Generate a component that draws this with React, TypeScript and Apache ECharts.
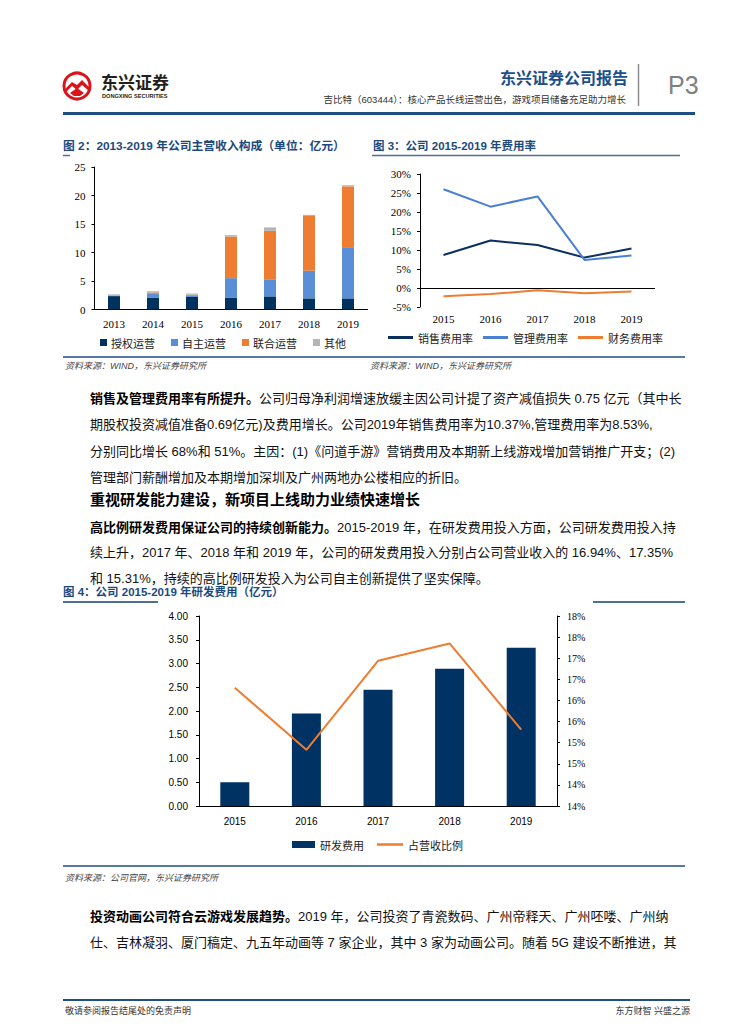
import React, { useEffect, useRef } from "react";
import * as echarts from "echarts";

const years2 = ["2013", "2014", "2015", "2016", "2017", "2018", "2019"];
const licensed = [2.35, 2.1, 2.2, 2.1, 2.3, 1.95, 1.95];
const selfRun = [0.12, 0.65, 0.3, 3.4, 3.0, 4.85, 8.85];
const joint = [0.0, 0.25, 0.1, 7.3, 8.5, 9.6, 10.8];
const other = [0.18, 0.2, 0.2, 0.25, 0.6, 0.2, 0.2];

const years3 = ["2015", "2016", "2017", "2018", "2019"];
const salesRate = [8.7, 12.5, 11.3, 8.0, 10.37];
const adminRate = [26.0, 21.4, 24.1, 7.4, 8.53];
const finRate = [-2.2, -1.6, -0.6, -1.4, -0.9];

const years4 = ["2015", "2016", "2017", "2018", "2019"];
const rdExpense = [0.5, 1.95, 2.45, 2.89, 3.33];
const rdRatio = [16.3, 14.83, 16.94, 17.35, 15.31];

const SANS = "'Liberation Sans','Noto Sans CJK SC',sans-serif";
const SERIF = "'Liberation Serif','Noto Sans CJK SC',serif";
const CJK = "'Noto Sans CJK SC',sans-serif";
const BLUE = "#1c4a7d";
const NAVY = "#0b2f5e";

function txt(text: string, x: number, y: number, size: number, extra: any = {}) {
  return {
    type: "text",
    x,
    y,
    silent: true,
    style: {
      text,
      fontSize: size,
      fontFamily: SANS,
      fill: "#111",
      align: "left",
      verticalAlign: "middle",
      ...extra,
    },
  };
}

function body(text: string, y: number) {
  return {
    type: "text",
    x: 90,
    y,
    silent: true,
    style: {
      text,
      fontSize: 13,
      fontFamily: SANS,
      fill: "#111",
      align: "left",
      verticalAlign: "middle",
      rich: {
        b: { fontSize: 13, fontFamily: SANS, fontWeight: "bold", fill: "#000" },
      },
    },
  };
}

function hline(x1: number, x2: number, y: number, color: string, w: number) {
  return {
    type: "line",
    silent: true,
    shape: { x1, y1: y, x2, y2: y },
    style: { stroke: color, lineWidth: w },
  };
}

export default function App() {
  const ref = useRef<HTMLDivElement>(null);
  useEffect(() => {
    if (!ref.current) return;
    const chart = echarts.init(ref.current, null, { renderer: "svg" });
    const axisLine = { show: true, lineStyle: { color: "#000", width: 1 } };
    const option: any = {
      animation: false,
      backgroundColor: "#fff",
      grid: [
        { left: 94.5, top: 167, width: 273, height: 142.5 },
        { left: 420, top: 174, width: 235, height: 133 },
        { left: 199, top: 616, width: 358, height: 190 },
      ],
      xAxis: [
        {
          gridIndex: 0,
          type: "category",
          data: years2,
          axisLine,
          axisTick: { show: false },
          axisLabel: { fontFamily: SERIF, fontSize: 11, color: "#000", margin: 9 },
        },
        {
          gridIndex: 1,
          type: "category",
          data: years3,
          position: "bottom",
          axisLine: { show: false, onZero: false },
          axisTick: { show: false },
          axisLabel: { fontFamily: SERIF, fontSize: 11, color: "#000", margin: 6 },
        },
        {
          gridIndex: 2,
          type: "category",
          data: years4,
          axisLine,
          axisTick: { show: false },
          axisLabel: { fontFamily: SANS, fontSize: 10, color: "#000", margin: 10 },
        },
      ],
      yAxis: [
        {
          gridIndex: 0,
          type: "value",
          min: 0,
          max: 25,
          interval: 5,
          axisLine,
          axisTick: { show: true, length: 3, lineStyle: { color: "#000" } },
          splitLine: { show: false },
          axisLabel: { fontFamily: SERIF, fontSize: 11, color: "#000", margin: 9 },
        },
        {
          gridIndex: 1,
          type: "value",
          min: -5,
          max: 30,
          interval: 5,
          axisLine,
          axisTick: { show: true, length: 3, lineStyle: { color: "#000" } },
          splitLine: { show: false },
          axisLabel: {
            fontFamily: SERIF,
            fontSize: 11,
            color: "#000",
            margin: 9,
            formatter: "{value}%",
          },
        },
        {
          gridIndex: 2,
          type: "value",
          min: 0,
          max: 4,
          interval: 0.5,
          axisLine,
          axisTick: { show: true, length: 3, lineStyle: { color: "#000" } },
          splitLine: { show: false },
          axisLabel: {
            fontFamily: SANS,
            fontSize: 10,
            color: "#000",
            margin: 11,
            formatter: (v: number) => v.toFixed(2),
          },
        },
        {
          gridIndex: 2,
          type: "value",
          position: "right",
          min: 13.5,
          max: 18,
          interval: 0.5,
          axisLine,
          axisTick: { show: true, length: 3, lineStyle: { color: "#000" } },
          splitLine: { show: false },
          axisLabel: {
            fontFamily: SERIF,
            fontSize: 10,
            color: "#000",
            margin: 10,
            formatter: (v: number) => Math.round(v) + "%",
          },
        },
      ],
      legend: [
        {
          data: ["授权运营", "自主运营", "联合运营", "其他"],
          left: 100,
          top: 337,
          padding: 0,
          icon: "rect",
          itemWidth: 7,
          itemHeight: 7,
          itemGap: 16,
          textStyle: { fontFamily: CJK, fontSize: 11, color: "#222", padding: [0, 0, 0, -1] },
        },
        {
          data: ["销售费用率", "管理费用率", "财务费用率"],
          left: 388,
          top: 332,
          padding: 0,
          icon: "rect",
          itemWidth: 25,
          itemHeight: 3,
          itemGap: 10,
          textStyle: { fontFamily: CJK, fontSize: 11, color: "#222" },
        },
        {
          data: ["研发费用"],
          left: 292,
          top: 839,
          padding: 0,
          icon: "rect",
          itemWidth: 23,
          itemHeight: 7,
          textStyle: { fontFamily: CJK, fontSize: 11, color: "#222" },
        },
        {
          data: ["占营收比例"],
          left: 377,
          top: 839,
          padding: 0,
          icon: "rect",
          itemWidth: 26,
          itemHeight: 2.5,
          textStyle: { fontFamily: CJK, fontSize: 11, color: "#222" },
        },
      ],
      series: [
        { name: "授权运营", type: "bar", stack: "a", xAxisIndex: 0, yAxisIndex: 0, barWidth: 12, data: licensed, itemStyle: { color: "#00315f" } },
        { name: "自主运营", type: "bar", stack: "a", xAxisIndex: 0, yAxisIndex: 0, barWidth: 12, data: selfRun, itemStyle: { color: "#5a8fd8" } },
        { name: "联合运营", type: "bar", stack: "a", xAxisIndex: 0, yAxisIndex: 0, barWidth: 12, data: joint, itemStyle: { color: "#ee7d31" } },
        { name: "其他", type: "bar", stack: "a", xAxisIndex: 0, yAxisIndex: 0, barWidth: 12, data: other, itemStyle: { color: "#b4b4b4" } },
        {
          name: "销售费用率",
          type: "line",
          xAxisIndex: 1,
          yAxisIndex: 1,
          data: salesRate,
          symbol: "none",
          lineStyle: { color: NAVY, width: 2 },
          itemStyle: { color: NAVY },
          markLine: {
            silent: true,
            symbol: "none",
            label: { show: false },
            lineStyle: { color: "#000", width: 1, type: "solid" },
            data: [{ yAxis: 0 }],
          },
        },
        {
          name: "管理费用率",
          type: "line",
          xAxisIndex: 1,
          yAxisIndex: 1,
          data: adminRate,
          symbol: "none",
          lineStyle: { color: "#4a7fd3", width: 2 },
          itemStyle: { color: "#4a7fd3" },
        },
        {
          name: "财务费用率",
          type: "line",
          xAxisIndex: 1,
          yAxisIndex: 1,
          data: finRate,
          symbol: "none",
          lineStyle: { color: "#ee7d31", width: 2 },
          itemStyle: { color: "#ee7d31" },
        },
        {
          name: "研发费用",
          type: "bar",
          xAxisIndex: 2,
          yAxisIndex: 2,
          barWidth: 29,
          data: rdExpense,
          itemStyle: { color: "#003263" },
        },
        {
          name: "占营收比例",
          type: "line",
          xAxisIndex: 2,
          yAxisIndex: 3,
          data: rdRatio,
          symbol: "none",
          lineStyle: { color: "#ee7d31", width: 2 },
          itemStyle: { color: "#ee7d31" },
        },
      ],
      graphic: [
        // logo
        { type: "circle", silent: true, shape: { cx: 77, cy: 86, r: 13 }, style: { fill: "#fff", stroke: "#d9151b", lineWidth: 3 } },
        {
          type: "polygon",
          silent: true,
          shape: { points: [[66, 88], [72, 82], [77, 85], [82, 80], [89, 87], [89, 91], [82, 85], [77, 90], [72, 86], [66, 92]] },
          style: { fill: "#d9151b" },
        },
        {
          type: "polygon",
          silent: true,
          shape: { points: [[70, 93], [77, 88], [84, 93], [80, 96], [74, 96]] },
          style: { fill: "#d9151b" },
        },
        txt("东兴证券", 101, 81, 17, { fontFamily: CJK, fontWeight: "bold", fill: "#231f20" }),
        txt("DONGXING SECURITIES", 102, 96, 5.6, { fontWeight: "bold", fill: "#231f20" }),
        txt("东兴证券公司报告", 628, 77, 16, { align: "right", fontFamily: CJK, fontWeight: "bold", fill: "#1b4f8c" }),
        txt("吉比特（603444）：核心产品长线运营出色，游戏项目储备充足助力增长", 626, 99, 9.5, { align: "right", fill: "#333" }),
        { type: "line", silent: true, shape: { x1: 638.5, y1: 64, x2: 638.5, y2: 106 }, style: { stroke: "#8c8c8c", lineWidth: 1.5 } },
        txt("P3", 668, 85, 25, { fill: "#808080" }),
        hline(63, 695, 113.5, "#1f4e85", 3),
        // chart titles
        txt("图 2：2013-2019 年公司主营收入构成（单位：亿元）", 63, 146, 11.8, { fontWeight: "bold", fill: BLUE }),
        txt("图 3：公司 2015-2019 年费用率", 373, 146, 11.5, { fontWeight: "bold", fill: BLUE }),
        hline(63, 70, 155.5, "#4d6f99", 1.5),
        hline(372, 680, 155.5, "#4d6f99", 1.5),
        hline(63, 685, 357, "#1f4e85", 1.5),
        txt("资料来源：WIND，东兴证券研究所", 65, 366, 9, { fontStyle: "italic", fill: "#444" }),
        txt("资料来源：WIND，东兴证券研究所", 370, 366, 9, { fontStyle: "italic", fill: "#444" }),
        // paragraph 1
        body("{b|销售及管理费用率有所提升。}公司归母净利润增速放缓主因公司计提了资产减值损失 0.75 亿元（其中长", 398),
        body("期股权投资减值准备0.69亿元)及费用增长。公司2019年销售费用率为10.37%,管理费用率为8.53%,", 424.5),
        body("分别同比增长 68%和 51%。主因：(1)《问道手游》营销费用及本期新上线游戏增加营销推广开支；(2)", 451),
        body("管理部门薪酬增加及本期增加深圳及广州两地办公楼相应的折旧。", 477),
        txt("重视研发能力建设，新项目上线助力业绩快速增长", 90, 498, 15, { fontFamily: CJK, fontWeight: "bold", fill: "#000" }),
        body("{b|高比例研发费用保证公司的持续创新能力。}2015-2019 年，在研发费用投入方面，公司研发费用投入持", 527),
        body("续上升，2017 年、2018 年和 2019 年，公司的研发费用投入分别占公司营业收入的 16.94%、17.35%", 552.5),
        body("和 15.31%，持续的高比例研发投入为公司自主创新提供了坚实保障。", 578),
        txt("图 4：公司 2015-2019 年研发费用（亿元）", 63, 591.5, 11.5, { fontWeight: "bold", fill: BLUE }),
        hline(63, 158, 602, "#4d6f99", 2),
        hline(593, 685, 602, "#4d6f99", 2),
        hline(63, 685, 866, "#1f4e85", 1.5),
        txt("资料来源：公司官网，东兴证券研究所", 65, 878, 9, { fontStyle: "italic", fill: "#444" }),
        body("{b|投资动画公司符合云游戏发展趋势。}2019 年，公司投资了青瓷数码、广州帝释天、广州呸喽、广州纳", 916),
        body("仕、吉林凝羽、厦门稿定、九五年动画等 7 家企业，其中 3 家为动画公司。随着 5G 建设不断推进，其", 942),
        hline(63, 690, 1000, "#1f4e85", 2),
        txt("敬请参阅报告结尾处的免责声明", 65, 1011, 9, { fill: "#333" }),
        txt("东方财智 兴盛之源", 690, 1011, 9, { align: "right", fill: "#333" }),
      ],
    };
    chart.setOption(option);
    return () => chart.dispose();
  }, []);
  return (
    <div
      ref={ref}
      style={{ position: "absolute", left: 0, top: 0, width: 755, height: 1024, background: "#fff" }}
    />
  );
}
